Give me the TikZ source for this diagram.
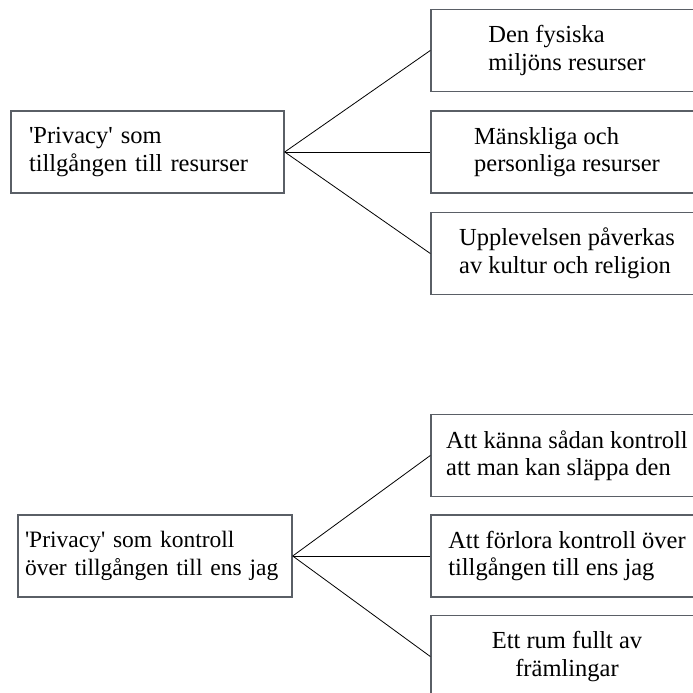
\documentclass[tikz,border=0pt]{standalone}
\usepackage{fontspec}
\setmainfont{Liberation Serif}

\definecolor{boxgray}{HTML}{5A5F66}
\newcommand{\apos}{\textquotesingle}

\begin{document}
\begin{tikzpicture}[
		x=1pt, y=1pt,
		grow'=east,
		level distance=419.5pt,
		sibling distance=101.5pt,
		every node/.style={
			draw=boxgray,
			line width=1.4pt,
			minimum height=82pt,
			font=\fontsize{24.5}{27.5}\selectfont,
		},
		topic/.style={
			align=left,
			text width=237pt,
			inner xsep=18pt,
		},
		aspect/.style={
			align=left,
			minimum width=272pt,
		},
		edge from parent/.style={
			draw=black,
			line width=0.8pt,
		},
		edge from parent path={(\tikzparentnode.east) -- (\tikzchildnode.west)},
	]
		\clip (0,0) rectangle (693,693);

		% resurser
		\node[topic] (tillgang) at (147.5,541) {\apos Privacy\apos{} som\\tillgången till resurser}
			child { node[aspect] (fysisk) {Den fysiska\\miljöns resurser} }
			child { node[aspect] (mansklig) {Mänskliga och\\personliga resurser} }
			child { node[aspect] (kultur) {Upplevelsen påverkas\\av kultur och religion} }
		;

		% kontroll
		\begin{scope}[level distance=412pt, sibling distance=100.5pt]
			\node[topic, text width=260pt, inner xsep=7pt, font=\fontsize{23.5}{27.5}\selectfont] (kontroll) at (155,137) {\apos Privacy\apos{} som kontroll\\över tillgången till ens jag}
				child { node[aspect] (slappa) {Att känna sådan kontroll\\att man kan släppa den} }
				child { node[aspect] (forlora) {Att förlora kontroll över\\tillgången till ens jag} }
				child { node[aspect, align=center] (framling) {Ett rum fullt av\\främlingar} }
			;
		\end{scope}
	\end{tikzpicture}
\end{document}
